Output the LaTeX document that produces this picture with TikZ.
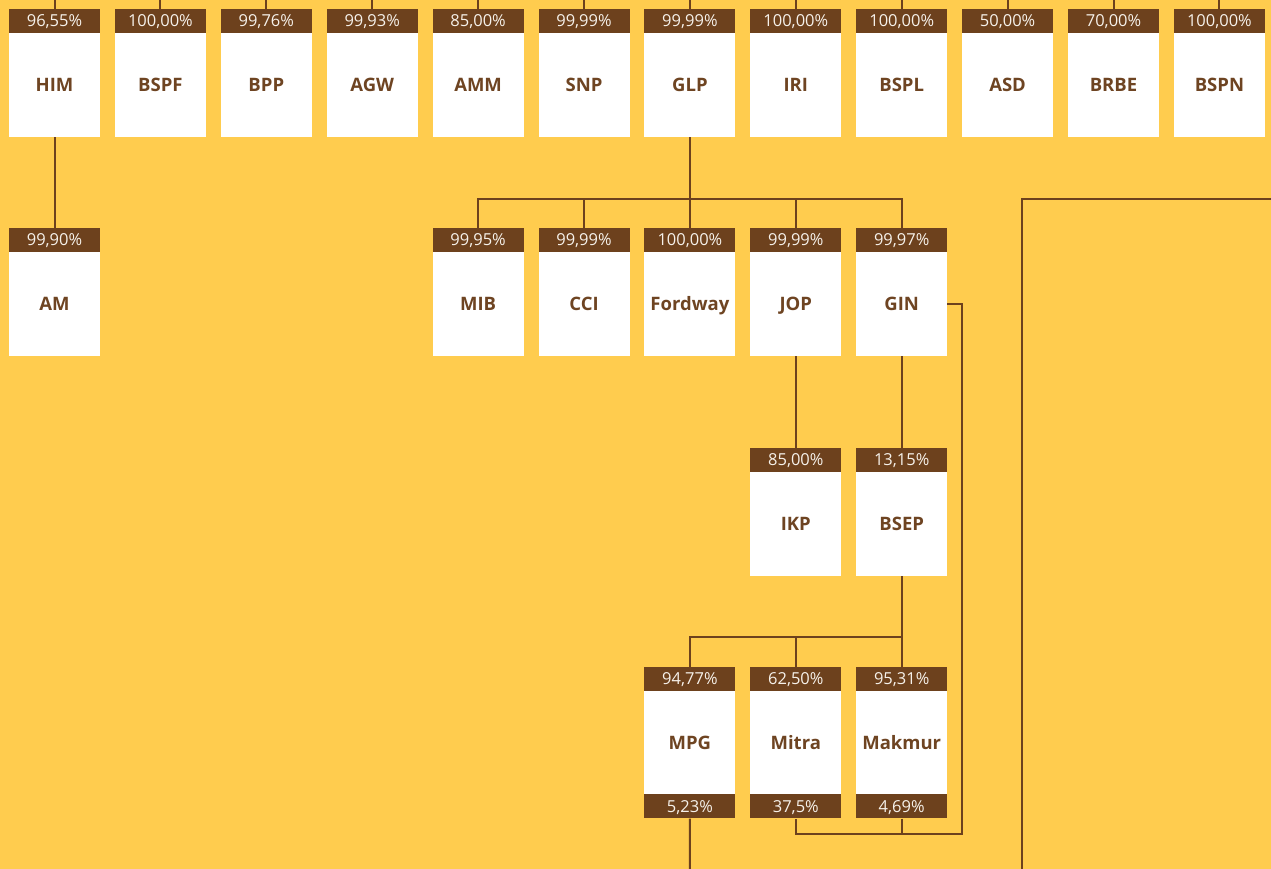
\documentclass[tikz,border=0pt]{standalone}
\usepackage{fontspec}
\setmainfont{Open Sans}
\usetikzlibrary{positioning, calc}
\definecolor{bsbg}{HTML}{FFCC4E}
\definecolor{bsbrown}{HTML}{6D411D}
\definecolor{bstext}{HTML}{6E4422}
\definecolor{bspct}{HTML}{F6F1EA}

\begin{document}
\begin{tikzpicture}[x=1pt, y=-1pt,
    ent/.style={fill=white, minimum width=91pt, minimum height=104pt, inner sep=0pt, text height=13.2pt, text depth=0pt, text=bstext, font=\fontsize{18.5}{20}\selectfont\bfseries},
    pct/.style={fill=bsbrown, minimum width=91pt, minimum height=24pt, inner sep=0pt, text height=11.8pt, text depth=0pt, text=bspct, font=\fontsize{16.5}{18}\selectfont},
    link/.style={draw=bsbrown, line width=2pt}]
        \fill[bsbg] (0,0) rectangle (1271,869);
        \useasboundingbox (0,0) rectangle (1271,869);

        % top row
        \foreach \n/\p [count=\i from 0] in {HIM/{96,55\%}, BSPF/{100,00\%}, BPP/{99,76\%}, AGW/{99,93\%},
                AMM/{85,00\%}, SNP/{99,99\%}, GLP/{99,99\%}, IRI/{100,00\%}, BSPL/{100,00\%},
                ASD/{50,00\%}, BRBE/{70,00\%}, BSPN/{100,00\%}}{
            \node[pct] (\n-p) at ({54.5+105.9*\i}, 21) {\p};
            \node[ent] (\n) at ({54.5+105.9*\i}, 85) {\n};
            \draw[link] (\n-p.north) -- +(0,-12);
        }

        % lower rows
        \foreach \n/\c/\r/\p in {AM/0/228/{99,90\%}, MIB/4/228/{99,95\%}, CCI/5/228/{99,99\%},
                Fordway/6/228/{100,00\%}, JOP/7/228/{99,99\%}, GIN/8/228/{99,97\%},
                IKP/7/448/{85,00\%}, BSEP/8/448/{13,15\%},
                MPG/6/667/{94,77\%}, Mitra/7/667/{62,50\%}, Makmur/8/667/{95,31\%}}{
            \node[pct] (\n-p) at ({54.5+105.9*\c}, \r+12) {\p};
            \node[ent] (\n) at ({54.5+105.9*\c}, \r+76) {\n};
        }
        \foreach \n/\p in {MPG/{5,23\%}, Mitra/{37,5\%}, Makmur/{4,69\%}}{
            \node[pct, below=-1pt of \n] (\n-b) {\p};
        }

        \coordinate (mpgend) at (689.9,869);
        \coordinate (rtop) at (1271,199);
        \coordinate (rcorner) at (1022,199);
        \coordinate (rend) at (1022,869);

        \draw[link] (HIM.south) -- (AM-p.north);
        \draw[link] (GLP.south) -- (Fordway-p.north);
        \draw[link] (MIB-p.north) -- ++(0,-29) -| (GIN-p.north);
        \draw[link] (CCI-p.north) -- ++(0,-29);
        \draw[link] (JOP-p.north) -- ++(0,-29);
        \draw[link] (JOP.south) -- (IKP-p.north);
        \draw[link] (GIN.south) -- (BSEP-p.north);
        \draw[link] (BSEP.south) -- (Makmur-p.north);
        \draw[link] (MPG-p.north) -- ++(0,-30) -| (Makmur-p.north);
        \draw[link] (Mitra-p.north) -- ++(0,-30);
        \draw[link] (GIN.east) -- ++(15,0) |- ($(Mitra-b.south)+(0,15)$) -- (Mitra-b.south);
        \draw[link] (Makmur-b.south) -- ++(0,15);
        \draw[link] (MPG-b.south) -- (mpgend);
        \draw[link] (rtop) -- (rcorner) -- (rend);
\end{tikzpicture}
\end{document}
